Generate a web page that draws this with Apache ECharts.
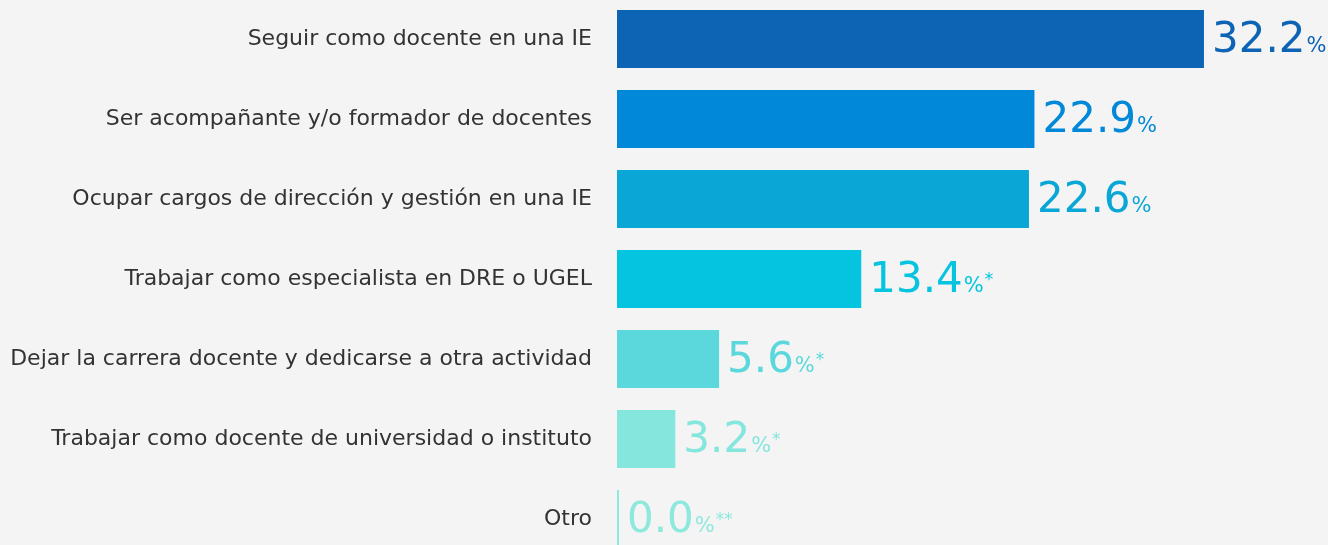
<!DOCTYPE html>
<html><head><meta charset="utf-8">
<script src="https://cdn.jsdelivr.net/npm/echarts@6/dist/echarts.min.js"></script>
<style>html,body{margin:0;padding:0;background:#f4f4f4;}#c{width:1328px;height:545px;}</style>
</head><body><div id="c"></div>
<script>
const categories = [
  'Seguir como docente en una IE',
  'Ser acompañante y/o formador de docentes',
  'Ocupar cargos de dirección y gestión en una IE',
  'Trabajar como especialista en DRE o UGEL',
  'Dejar la carrera docente y dedicarse a otra actividad',
  'Trabajar como docente de universidad o instituto',
  'Otro'
];
const values = [32.2, 22.9, 22.6, 13.4, 5.6, 3.2, 0.0];
const notes = ['', '', '', '*', '*', '*', '**'];
const colors = ['#0d64b5', '#0288d9', '#0aa7d6', '#05c4e0', '#5ad8dc', '#85e6dd', '#8ee8dc'];

const chart = echarts.init(document.getElementById('c'));
const font = '"DejaVu Sans", sans-serif';
chart.setOption({
  backgroundColor: '#f4f4f4',
  animation: false,
  grid: {left: 617, width: 638, top: -1, height: 560, outerBoundsMode: 'none'},
  xAxis: {type: 'value', min: 0, max: 35, show: false},
  yAxis: {
    type: 'category', inverse: true, data: categories,
    axisLine: {show: false}, axisTick: {show: false},
    axisLabel: {color: '#333', fontSize: 22, fontFamily: font, margin: 25}
  },
  series: [{
    type: 'bar', barWidth: 58, barMinHeight: 2,
    data: values.map((v, i) => ({value: v, itemStyle: {color: colors[i]}, label: {color: colors[i]}})),
    label: {
      show: true, position: 'right', distance: 8,
      formatter: p => '{n|' + values[p.dataIndex].toFixed(1) + '}{p|%}' + (notes[p.dataIndex] ? '{s|' + notes[p.dataIndex] + '}' : ''),
      rich: {
        n: {fontSize: 42, fontFamily: font, verticalAlign: 'bottom', lineHeight: 46},
        p: {fontSize: 21, fontFamily: font, verticalAlign: 'bottom', lineHeight: 21, padding: [0, 0, 5, 1]},
        s: {fontSize: 17, fontFamily: font, verticalAlign: 'bottom', lineHeight: 17, padding: [0, 0, 13, 1]}
      }
    }
  }]
});
</script></body></html>
